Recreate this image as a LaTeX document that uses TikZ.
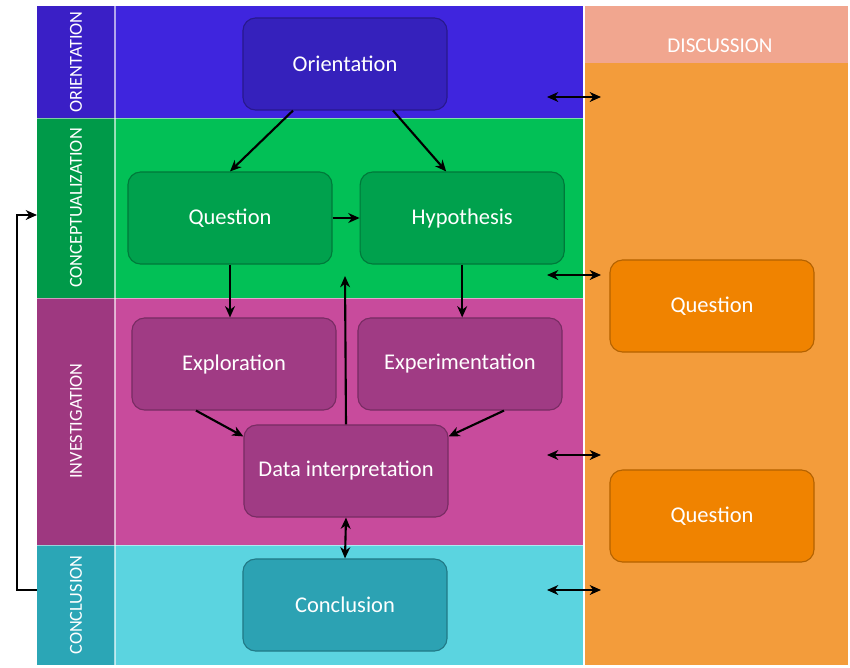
\documentclass[tikz,border=0pt]{standalone}
\usepackage{fontspec}
\setmainfont{Carlito}
\usetikzlibrary{positioning, arrows.meta}
\tikzstyle{arrow} = [line width=1.5pt,->,>={Stealth[length=8pt,width=7pt,inset=2.5pt]}]
\tikzstyle{dblarrow} = [line width=1.5pt,<->,>={Stealth[length=8pt,width=7pt,inset=2.5pt]}]

\definecolor{orientband}{HTML}{3F25DE}
\definecolor{orientstrip}{HTML}{3A1FC6}
\definecolor{orientbox}{HTML}{3521BC}
\definecolor{conceptband}{HTML}{02C056}
\definecolor{conceptstrip}{HTML}{009A49}
\definecolor{conceptbox}{HTML}{00A14D}
\definecolor{investband}{HTML}{C84B9C}
\definecolor{investstrip}{HTML}{9E3880}
\definecolor{investbox}{HTML}{A03B84}
\definecolor{concband}{HTML}{5BD4E0}
\definecolor{concstrip}{HTML}{2BA6B6}
\definecolor{concbox}{HTML}{2CA2B3}
\definecolor{discusshead}{HTML}{F1A68F}
\definecolor{discussbody}{HTML}{F39C3B}
\definecolor{discussbox}{HTML}{F08300}

\begin{document}
\begin{tikzpicture}[x=0.025cm, y=-0.025cm,
stagebox/.style={rectangle, rounded corners=9pt, draw=#1!75!black, fill=#1, line width=0.8pt, minimum width=5.1cm, minimum height=2.3cm, text=white, font=\fontsize{16}{18}\selectfont},
lanelabel/.style={rotate=90, text=white, font=\fontsize{13}{15}\selectfont},]
\useasboundingbox (0,0) rectangle (850,667);

%Lanes
\fill[orientband]  (115,6)   rectangle (583,118);
\fill[conceptband] (115,118) rectangle (583,298);
\fill[investband]  (115,298) rectangle (583,545);
\fill[concband]    (115,545) rectangle (583,665);
\fill[orientstrip]  (37,6)   rectangle (115,118);
\fill[conceptstrip] (37,118) rectangle (115,298);
\fill[investstrip]  (37,298) rectangle (115,545);
\fill[concstrip]    (37,545) rectangle (115,665);
\fill[discusshead] (585,6)  rectangle (848,63);
\fill[discussbody] (585,63) rectangle (848,665);
\draw[white, opacity=0.6, line width=0.8pt] (115,6) -- (115,665);
\draw[white, opacity=0.5, line width=0.6pt] (37,118) -- (583,118) (37,298) -- (583,298) (37,545) -- (583,545);
\draw[white, opacity=0.6, line width=0.8pt] (584,6) -- (584,665);

%Labels
\node[lanelabel] (orientlab)   at (76,62)  {ORIENTATION};
\node[lanelabel] (conceptlab)  at (76,208) {CONCEPTUALIZATION};
\node[lanelabel] (investlab)   at (76,421) {INVESTIGATION};
\node[lanelabel] (conclab)     at (76,605) {CONCLUSION};
\node[text=white, font=\fontsize{15}{17}\selectfont] (discusslab) at (720,46) {DISCUSSION};

%Nodes
\node[stagebox=orientbox]  (orientation) at (345,64)  {Orientation};
\node[stagebox=conceptbox] (question)    at (230,218) {Question};
\node[stagebox=conceptbox, right=0.675cm of question] (hypothesis) {Hypothesis};
\node[stagebox=investbox]  (exploration) at (234,364) {Exploration};
\node[stagebox=investbox]  (experiment)  at (460,364) {Experimentation};
\node[stagebox=investbox]  (datainterp)  at (346,471) {Data interpretation};
\node[stagebox=concbox]    (conclusion)  at (345,605) {Conclusion};
\node[stagebox=discussbox] (dquestion1)  at (712,306) {Question};
\node[stagebox=discussbox] (dquestion2)  at (712,516) {Question};

\coordinate (upend) at (345,276);
\coordinate (fbout) at (37,590);
\coordinate (fbin)  at (37,215);
\foreach \y/\n in {97/a,275/b,455/c,590/d}{
  \coordinate (dl\n) at (547,\y);
  \coordinate (dr\n) at (601,\y);
}

%Lines
\draw[arrow] ([xshift=-1.3cm]orientation.south) -- (question.north);
\draw[arrow] ([xshift=1.2cm]orientation.south) -- ([xshift=-0.4cm]hypothesis.north);
\draw[arrow] (question.east) -- (hypothesis.west);
\draw[arrow] (question.south) -- (exploration.north -| question.south);
\draw[arrow] (hypothesis.south) -- (experiment.north -| hypothesis.south);
\draw[arrow] ([xshift=-0.95cm]exploration.south) -- ([yshift=-0.3cm]datainterp.north west);
\draw[arrow] ([xshift=1.1cm]experiment.south) -- ([yshift=-0.3cm]datainterp.north east);
\draw[arrow] (datainterp.north) -- (upend);
\draw[dblarrow] (datainterp.south) -- (conclusion.north);
\draw[arrow, line width=1.3pt] (fbout) -- ++(-20,0) |- (fbin);
\foreach \n in {a,b,c,d}
  \draw[dblarrow] (dl\n) -- (dr\n);
\end{tikzpicture}
\end{document}
